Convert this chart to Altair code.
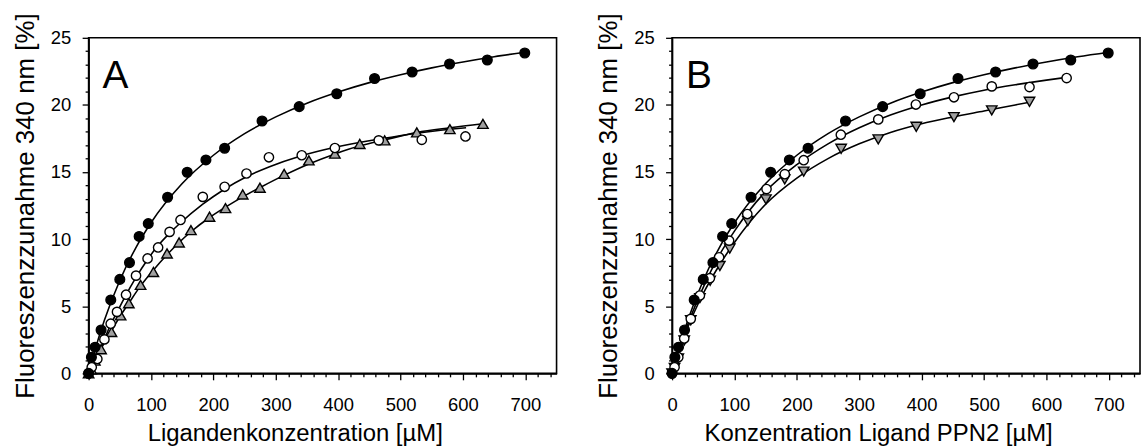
import altair as alt
import pandas as pd

FONT = "Liberation Sans"

# ---------------- data ----------------
# Panel A
a_filled_x = [0, 4.5, 10.3, 20, 35.5, 50, 65.5, 81, 95.6, 126.6, 158, 188, 218, 278, 337.5, 397.7, 458.3, 518.5, 578.5, 639, 699]
a_filled_y = [0, 1.2, 1.95, 3.23, 5.47, 7.0, 8.25, 10.2, 11.16, 13.12, 14.98, 15.9, 16.77, 18.8, 19.87, 20.83, 21.97, 22.45, 23.05, 23.35, 23.87]
a_open_x = [0, 5, 14, 25.3, 35.4, 45.5, 60, 76, 94.5, 111.4, 129.8, 147.3, 183, 218, 253, 289, 341.6, 394.7, 465, 534, 604]
a_open_y = [0, 0.45, 1.07, 2.53, 3.7, 4.58, 5.86, 7.28, 8.56, 9.38, 10.54, 11.43, 13.15, 13.9, 14.89, 16.1, 16.25, 16.79, 17.36, 17.4, 17.65]
a_tri_x = [0, 4, 10, 20, 36.7, 51.3, 64.5, 83.3, 103.8, 125.7, 145, 164, 193.8, 219.4, 247, 274.6, 313.4, 353, 394.7, 434.6, 474.5, 526, 579, 632]
a_tri_y = [0, 0.3, 0.95, 1.8, 3.08, 4.32, 5.22, 6.59, 7.55, 8.93, 9.75, 10.67, 11.67, 12.31, 13.33, 13.83, 14.86, 15.87, 16.37, 17.09, 17.36, 17.96, 18.2, 18.59]

# fitted curves
filled_curve_x = [0, 10, 25, 50, 75, 100, 150, 200, 250, 300, 350, 400, 450, 500, 550, 600, 650, 700]
filled_curve_y = [0, 1.71, 3.92, 6.92, 9.30, 11.22, 14.14, 16.25, 17.86, 19.11, 20.13, 20.96, 21.66, 22.25, 22.76, 23.20, 23.59, 23.93]
a_open_curve_x = [0, 15, 25, 35, 46, 60, 76, 94, 111, 130, 147, 183, 217, 253, 290, 340, 395, 465, 535, 605]
a_open_curve_y = [0, 1.4, 2.5, 3.6, 4.6, 5.85, 7.15, 8.45, 9.5, 10.45, 11.2, 12.6, 13.7, 14.65, 15.4, 16.2, 16.85, 17.45, 17.95, 18.3]
a_tri_curve_x = [0, 20, 36, 51, 64, 83, 103, 126, 145, 164, 195, 220, 247, 275, 313, 353, 395, 435, 475, 526, 579, 632]
a_tri_curve_y = [0, 1.85, 3.1, 4.3, 5.2, 6.5, 7.65, 8.85, 9.75, 10.55, 11.65, 12.4, 13.15, 13.85, 14.75, 15.6, 16.35, 16.95, 17.4, 17.95, 18.3, 18.6]

# Panel B
b_filled_x = a_filled_x
b_filled_y = a_filled_y
b_open_x = [0, 4, 10, 19.5, 30, 44.6, 60.6, 75.4, 91.4, 120.6, 151.4, 180.7, 211, 270.5, 330.5, 390.8, 451.8, 512.4, 572.9, 632.4]
b_open_y = [0, 0.45, 1.2, 2.6, 4.06, 5.8, 7.09, 8.65, 9.89, 11.87, 13.73, 14.84, 15.88, 17.78, 18.92, 20.03, 20.57, 21.38, 21.33, 22.0]
b_tri_x = [0, 4, 10, 19.5, 30, 44.6, 61, 76.6, 92.5, 121.5, 150.5, 180.6, 211, 271, 330.5, 391.4, 451.8, 512.4, 572.9]
b_tri_y = [0, 0.4, 1.1, 2.45, 3.95, 5.6, 6.9, 8.0, 9.3, 11.35, 12.96, 14.45, 15.03, 16.73, 17.43, 18.37, 19.09, 19.59, 20.23]
b_open_curve_x = [0, 10, 25, 50, 75, 100, 150, 200, 250, 300, 350, 400, 450, 500, 550, 600, 632]
b_open_curve_y = [0, 1.56, 3.61, 6.41, 8.75, 10.6, 13.55, 15.55, 17.1, 18.3, 19.25, 20.0, 20.6, 21.1, 21.5, 21.85, 22.05]
b_tri_curve_x = [0, 10, 25, 50, 75, 100, 150, 200, 250, 300, 350, 400, 450, 500, 550, 573]
b_tri_curve_y = [0, 1.45, 3.4, 5.95, 8.0, 9.75, 12.6, 14.55, 16.0, 17.1, 17.95, 18.6, 19.1, 19.55, 20.0, 20.2]

x_tick_values = list(range(0, 741, 20))
y_tick_values = list(range(0, 26, 1))

Y_TITLE = "Fluoreszenzzunahme 340 nm [%]"


def df(xs, ys, name):
    return pd.DataFrame({"x": xs, "y": ys, "s": name})


def panel(letter, xtitle, pts, curves):
    xscale = alt.Scale(domain=[0, 750], nice=False, zero=False)
    yscale = alt.Scale(domain=[0, 25], nice=False)
    xaxis = alt.Axis(
        title=xtitle,
        values=x_tick_values,
        labelExpr="datum.value % 100 === 0 ? datum.label : ''",
        tickSize={"condition": {"test": "datum.value % 100 === 0", "value": 6.5}, "value": 3.5},
        labelPadding=15.5,
        titlePadding=8,
        titleFontSize=24,
        titleX=207,
        labelFlush=False,
        labelOverlap=False,
    )
    yaxis = alt.Axis(
        title=Y_TITLE,
        values=y_tick_values,
        labelExpr="datum.value % 5 === 0 ? datum.label : ''",
        tickSize={"condition": {"test": "datum.value % 5 === 0", "value": 6.5}, "value": 3.5},
        labelPadding=11.5,
        titlePadding=12,
        titleFontSize=26,
        labelFlush=False,
        labelOverlap=False,
    )
    X = alt.X("x:Q", scale=xscale, axis=xaxis)
    Y = alt.Y("y:Q", scale=yscale, axis=yaxis)

    curve_df = pd.concat([df(cx, cy, n) for (cx, cy, n) in curves])
    lines = alt.Chart(curve_df).mark_line(
        color="black", strokeWidth=1.6, interpolate="monotone", clip=True
    ).encode(x=X, y=Y, detail="s:N")

    layers = [lines]
    for (xs, ys, shape, fill, size) in pts:
        layers.append(
            alt.Chart(df(xs, ys, shape)).mark_point(
                shape=shape, filled=True, fill=fill, stroke="black",
                strokeWidth=1.4, size=size, opacity=1,
            ).encode(x=X, y=Y)
        )
    label_df = pd.DataFrame({"t": [letter]})
    layers.append(
        alt.Chart(label_df).mark_text(
            align="left", baseline="alphabetic", fontSize=39, font=FONT, color="black"
        ).encode(x=alt.value(14), y=alt.value(50), text="t:N")
    )
    return alt.layer(*layers).properties(width=470, height=337)


panel_a = panel(
    "A", "Ligandenkonzentration [µM]",
    pts=[
        (a_tri_x, a_tri_y, "triangle-up", "#a0a0a0", 110),
        (a_open_x, a_open_y, "circle", "white", 88),
        (a_filled_x, a_filled_y, "circle", "black", 95),
    ],
    curves=[
        (filled_curve_x, filled_curve_y, "f"),
        (a_open_curve_x, a_open_curve_y, "o"),
        (a_tri_curve_x, a_tri_curve_y, "t"),
    ],
)

panel_b = panel(
    "B", "Konzentration Ligand PPN2 [µM]",
    pts=[
        (b_tri_x, b_tri_y, "triangle-down", "#a0a0a0", 110),
        (b_open_x, b_open_y, "circle", "white", 88),
        (b_filled_x, b_filled_y, "circle", "black", 95),
    ],
    curves=[
        (filled_curve_x, filled_curve_y, "f"),
        (b_open_curve_x, b_open_curve_y, "o"),
        (b_tri_curve_x, b_tri_curve_y, "t"),
    ],
)

chart = alt.hconcat(panel_a, panel_b, spacing=116, bounds="flush").properties(
    padding={"left": 11, "top": 11, "right": 0, "bottom": 0},
    background="white",
).configure_view(
    stroke="black", strokeWidth=1.6
).configure_axis(
    grid=False,
    domainColor="black",
    domainWidth=1.6,
    tickColor="black",
    tickWidth=1.3,
    labelFont=FONT,
    titleFont=FONT,
    labelFontSize=18.5,
    labelColor="black",
    titleColor="black",
    titleFontWeight="normal",
)

chart.save("out.html", embed_options={"renderer": "svg", "actions": False})
